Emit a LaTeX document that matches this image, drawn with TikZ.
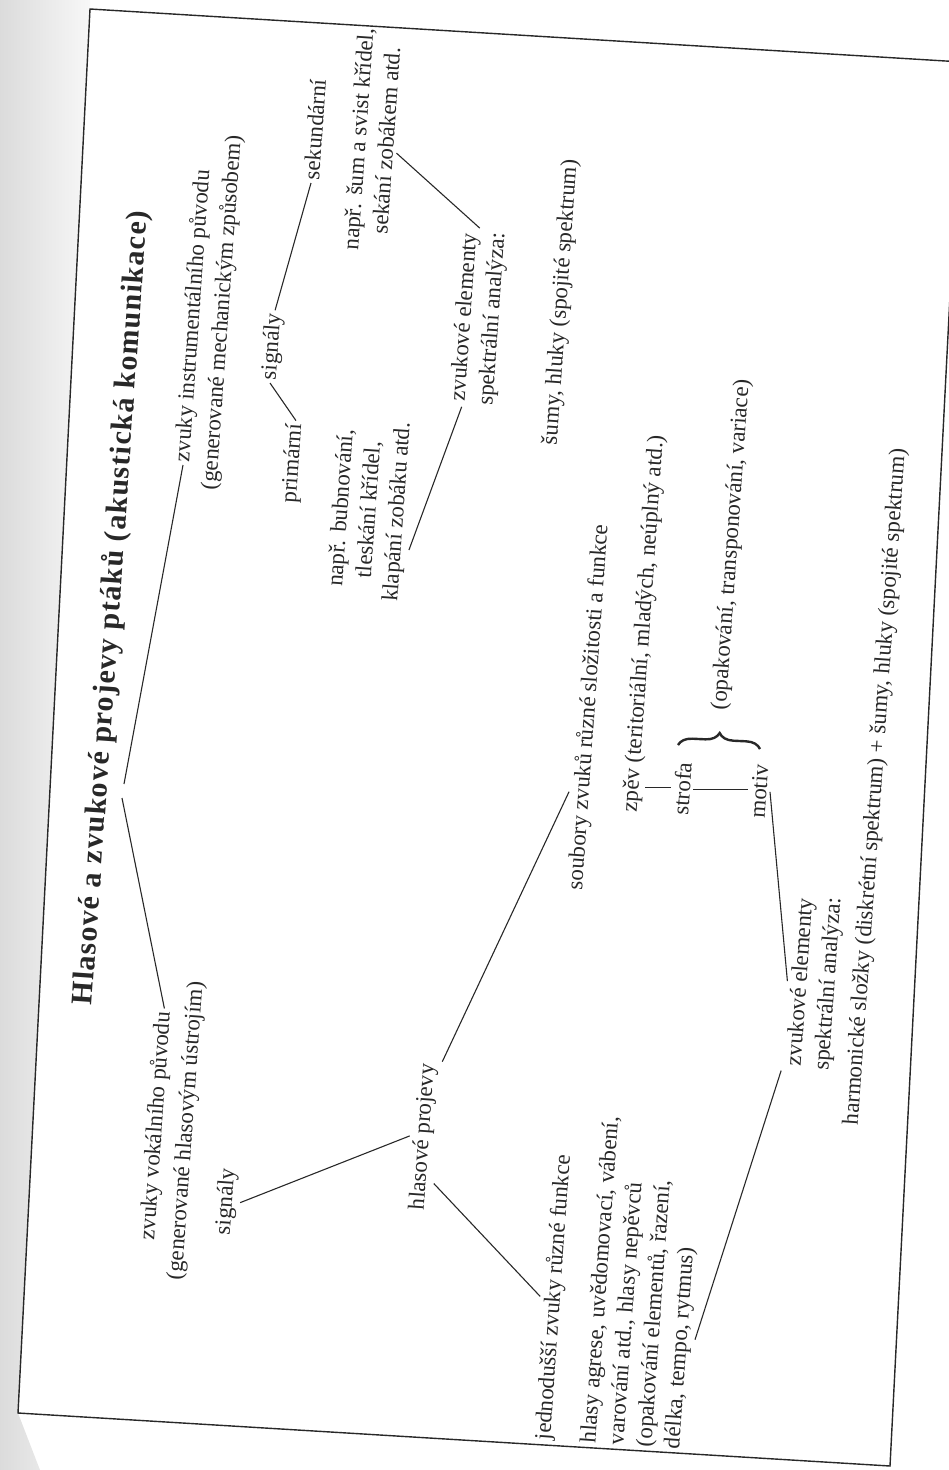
\documentclass[tikz,border=0pt]{standalone}
\usepackage{fontspec}
\setmainfont{Liberation Serif}
\usetikzlibrary{calc,decorations.pathreplacing}
\definecolor{ink}{RGB}{40,40,40}

\begin{document}
\begin{tikzpicture}[x=1pt,y=-1pt,
    lbl/.style={rotate=86, text=ink, font=\fontsize{23}{28}\selectfont, inner sep=3pt},
    blk/.style={lbl, align=center},
    ln/.style={draw=ink, line width=1.1pt}]
\useasboundingbox (0,0) rectangle (949,1470);
\clip (0,0) rectangle (949,1470);
% page gutter and frame
\shade[left color=gray!28, right color=gray!6] (0,0) -- (90,0) -- (90,9) -- (18,1413) -- (40,1470) -- (0,1470) -- cycle;
\draw[ink, line width=1.4pt] (962,62) -- (90,9) -- (18,1413) -- (890,1466) -- cycle;

% title and the two origins
\node[lbl, anchor=west, font=\bfseries\fontsize{30}{34}\selectfont\addfontfeature{LetterSpace=4}] (title) at (84,1008) {Hlasové a zvukové projevy ptáků (akustická komunikace)};
\coordinate (rootA) at (124,784);
\coordinate (rootB) at (122,798);

\node[lbl, anchor=west] (instr) at (183,465) {zvuky instrumentálního původu};
\node[lbl, anchor=west] (instrb) at (210,493) {(generované mechanickým způsobem)};
\node[lbl, anchor=west] (vok) at (148,1243) {zvuky vokálního původu};
\node[lbl, anchor=west] (vokb) at (176,1283) {(generované hlasovým ústrojím)};

% instrumental branch
\node[lbl, anchor=west] (prim) at (290,506) {primární};
\node[lbl, anchor=west] (sigB) at (270,383) {signály};
\node[lbl, anchor=west] (sek) at (311,183) {sekundární};
\node[blk] (nprA) at (370,510) {např. bubnování,\\tleskání křídel,\\klapání zobáku atd.};
\node[blk] (nprB) at (372,140) {např. šum a svist křídel,\\sekání zobákem atd.};
\node[blk] (elemA) at (479,318) {zvukové elementy\\spektrální analýza:};
\node[lbl, anchor=west] (sumy) at (551,448) {šumy, hluky (spojité spektrum)};

% vocal branch
\node[lbl, anchor=west] (sigA) at (224,1238) {signály};
\node[lbl, anchor=west] (hlas) at (418,1213) {hlasové projevy};
\node[lbl, anchor=west] (jedn) at (544,1443) {jednodušší zvuky různé funkce};
\node[lbl, anchor=north west, align=left] (hlasy) at (576,1445) {hlasy agrese, uvědomovací, vábení,\\varování atd., hlasy nepěvců\\(opakování elementů, řazení,\\délka, tempo, rytmus)};
\node[lbl, anchor=west] (soub) at (576,893) {soubory zvuků různé složitosti a funkce};
\node[lbl, anchor=west] (zpev) at (631,815) {zpěv (teritoriální, mladých, neúplný atd.)};
\node[lbl, anchor=west] (strofa) at (680,818) {strofa};
\node[lbl, anchor=west] (motiv) at (757,821) {motiv};
\node[lbl, anchor=west] (opak) at (720,713) {(opakování, transponování, variace)};
\node[blk] (elemB) at (815,983) {zvukové elementy\\spektrální analýza:};
\node[lbl, anchor=west] (harm) at (852,1128) {harmonické složky (diskrétní spektrum) + šumy, hluky (spojité spektrum)};

% connectors
\draw[ln] (rootA) -- (instr.west);
\draw[ln] (rootB) -- (vok.east);
\draw[ln] (prim.east) -- (sigB.west);
\draw[ln] (sigB.east) -- (sek.west);
\draw[ln] ($(nprA.south)!0.4!(nprA.south west)$) -- ($(elemA.north west)!0.3!(elemA.south west)$);
\draw[ln] ($(nprB.south)!0.1!(nprB.south west)$) -- ($(elemA.north east)!0.4!(elemA.south east)$);
\draw[ln] (sigA.south) -- (hlas.north);
\draw[ln] (hlas.south east) -- ($(soub.north west)!0.27!(soub.north east)$);
\draw[ln] ($(hlas.south west)!0.2!(hlas.south east)$) -- (jedn.north);
\draw[ln] ($(hlasy.south west)!0.34!(hlasy.south east)$) -- (elemB.north west);
\draw[ln] (motiv.south) -- (elemB.north);
\draw[ln] (strofa.north) -- (strofa.north -| zpev.south west);
\draw[ln] (strofa.south) -- (strofa.south -| motiv.north);
\draw[ink, line width=2.4pt, decorate, decoration={brace, amplitude=14pt}] (678,745) -- (760,749);
\end{tikzpicture}
\end{document}
